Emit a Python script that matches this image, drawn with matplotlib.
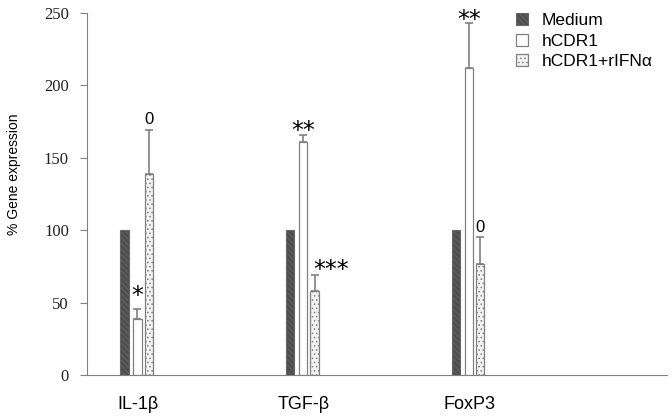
import matplotlib
matplotlib.use("Agg")
import matplotlib.pyplot as plt
import numpy as np

categories = ["IL-1β", "TGF-β", "FoxP3"]
series = ["Medium", "hCDR1", "hCDR1+rIFNα"]
medium = [100, 100, 100]
hcdr1 = [38.5, 161, 212]
hcdr1_err = [7, 5, 31]
rifn = [139, 58, 77]
rifn_err = [30, 11, 18]
sig_hcdr1 = ["*", "**", "**"]
sig_rifn = ["0", "***", "0"]
yticks = [0, 50, 100, 150, 200, 250]

plt.rcParams['hatch.color'] = '#7a7a7a'
plt.rcParams['hatch.linewidth'] = 0.6

fig = plt.figure(figsize=(6.72, 4.18), dpi=100)
ax = fig.add_axes([87/672, 1-375/418, (667-87)/672, (375-13)/418])

x = np.arange(len(categories))
w = 0.05
offs = [-0.084, -0.006, 0.063]
ec = '#808080'

b1 = ax.bar(x + offs[0], medium, w, color='#4e4e4e', edgecolor='#666666', hatch='\\\\\\\\\\\\', linewidth=0.8, label=series[0])
b2 = ax.bar(x + offs[1], hcdr1, w, color='white', edgecolor=ec, linewidth=0.9, label=series[1])
b3 = ax.bar(x + offs[2], rifn, w, color='#f2f2f2', edgecolor=ec, hatch='....', linewidth=0.9, label=series[2])

ax.errorbar(x + offs[1], hcdr1, yerr=[np.zeros(3), hcdr1_err], fmt='none', ecolor=ec, elinewidth=1.2, capsize=3, capthick=1.2)
ax.errorbar(x + offs[2], rifn, yerr=[np.zeros(3), rifn_err], fmt='none', ecolor=ec, elinewidth=1.2, capsize=3, capthick=1.2)

star_shift = [0.5, -6, -6]
for i in range(3):
    top = hcdr1[i] + hcdr1_err[i]
    ax.text(x[i] + offs[1], top + star_shift[i], sig_hcdr1[i], ha='center', va='bottom', fontsize=17, family='DejaVu Sans')
    top = rifn[i] + rifn_err[i]
    if sig_rifn[i] == "0":
        ax.text(x[i] + offs[2], top + 2, sig_rifn[i], ha='center', va='bottom', fontsize=12, family='Liberation Sans')
    else:
        ax.text(x[i] + offs[2] + 0.1, top - 5, sig_rifn[i], ha='center', va='bottom', fontsize=17, family='DejaVu Sans')

ax.set_xlim(-0.31, 3.19)
ax.set_ylim(0, 250)
ax.set_yticks(yticks)
ax.set_yticklabels([str(t) for t in yticks], family='Liberation Serif', fontsize=12, color='#222222')
ax.set_xticks(x)
ax.set_xticklabels(categories, family='Liberation Sans', fontsize=13)
ax.tick_params(axis='x', length=0, pad=15)
ax.tick_params(axis='y', length=5, color='#808080', pad=8)
for s in ['top', 'right']:
    ax.spines[s].set_visible(False)
ax.spines['left'].set_color('#808080')
ax.spines['bottom'].set_color('#808080')
ax.set_ylabel("% Gene expression", family='Liberation Sans', fontsize=10)
ax.yaxis.set_label_coords(-0.113, 0.555)

leg = fig.legend(handles=[b1, b2, b3], labels=series, loc='upper left', bbox_to_anchor=(503.5/672, 1-1/418),
                 frameon=False, prop={'family': 'Liberation Sans', 'size': 12.5}, handlelength=0.7, handleheight=0.7,
                 handletextpad=0.8, labelspacing=0.3, borderpad=0.2)

fig.savefig("out.png", dpi=100)
